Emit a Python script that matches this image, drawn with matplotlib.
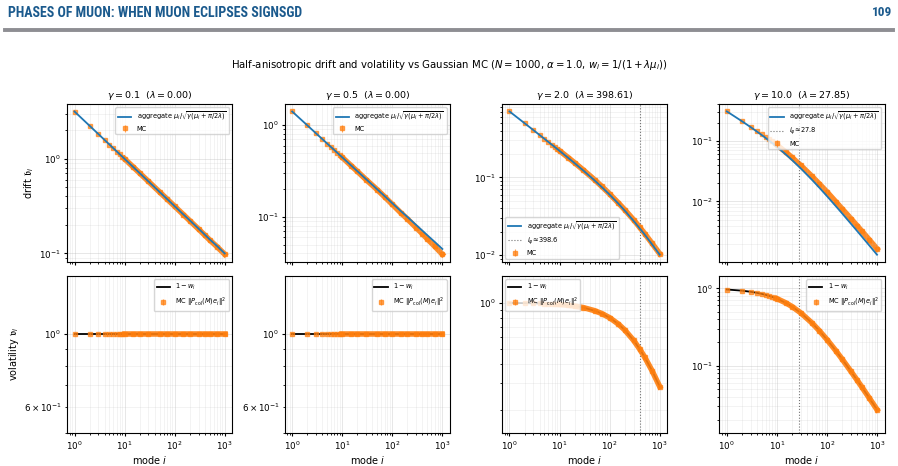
import matplotlib.pyplot as plt
import numpy as np

modes = [1, 2, 3, 4, 5, 6, 7, 8, 9, 10, 15, 20, 30, 50, 70, 100, 150, 200, 300, 400, 500, 700, 1000]

gammas = [0.1, 0.5, 2.0, 10.0]
lambdas = [0.00, 0.00, 398.61, 27.85]
i_phi = [None, None, 398.6, 27.8]

# drift b_i : aggregate theory and MC
drift_agg_g01 = [3.162, 2.236, 1.826, 1.581, 1.414, 1.291, 1.195, 1.118, 1.054, 1.000, 0.816, 0.707,
                 0.577, 0.447, 0.378, 0.316, 0.258, 0.224, 0.183, 0.158, 0.141, 0.120, 0.100]
drift_mc_g01 = [3.162, 2.236, 1.826, 1.581, 1.414, 1.291, 1.195, 1.118, 1.054, 1.000, 0.816, 0.707,
                0.577, 0.446, 0.377, 0.315, 0.257, 0.222, 0.181, 0.156, 0.139, 0.118, 0.098]
drift_agg_g05 = [1.414, 1.000, 0.816, 0.707, 0.632, 0.577, 0.535, 0.500, 0.471, 0.447, 0.365, 0.316,
                 0.258, 0.200, 0.169, 0.141, 0.115, 0.100, 0.0816, 0.0707, 0.0632, 0.0535, 0.0447]
drift_mc_g05 = [1.414, 1.000, 0.816, 0.707, 0.632, 0.577, 0.535, 0.500, 0.471, 0.446, 0.363, 0.314,
                0.255, 0.198, 0.166, 0.137, 0.110, 0.095, 0.0763, 0.0654, 0.0575, 0.0479, 0.0391]
drift_agg_g2 = [0.7057, 0.4980, 0.4059, 0.3508, 0.3132, 0.2853, 0.2636, 0.2462, 0.2316, 0.2193, 0.1774,
                0.1522, 0.1221, 0.0914, 0.0748, 0.0599, 0.0458, 0.0374, 0.0276, 0.0220, 0.0184, 0.0138, 0.0101]
drift_mc_g2 = [0.706, 0.498, 0.406, 0.351, 0.313, 0.285, 0.264, 0.246, 0.232, 0.220, 0.179,
               0.154, 0.124, 0.0932, 0.0763, 0.0611, 0.0467, 0.0383, 0.0285, 0.0227, 0.0189, 0.0142, 0.0104]
drift_agg_g10 = [0.3077, 0.2120, 0.1688, 0.1428, 0.1249, 0.1116, 0.1012, 0.0928, 0.0858, 0.0800, 0.0601,
                 0.0485, 0.0352, 0.0229, 0.0170, 0.01227, 0.00839, 0.00638, 0.00431, 0.00326, 0.00262,
                 0.00188, 0.00132]
drift_mc_g10 = [0.308, 0.214, 0.172, 0.147, 0.130, 0.117, 0.107, 0.0984, 0.0918, 0.0856, 0.0655,
                0.0534, 0.0394, 0.0261, 0.0196, 0.0144, 0.0099, 0.00759, 0.00522, 0.00398, 0.00322,
                0.00233, 0.00165]

# volatility v_i : 1 - w_i and MC
vol_th_g01 = [1.0, 1.0, 1.0, 1.0, 1.0, 1.0, 1.0, 1.0, 1.0, 1.0, 1.0, 1.0,
              1.0, 1.0, 1.0, 1.0, 1.0, 1.0, 1.0, 1.0, 1.0, 1.0, 1.0]
vol_mc_g01 = [1.0, 1.0, 1.0, 1.0, 1.0, 1.0, 1.0, 1.0, 1.0, 1.0, 1.0, 1.0,
              1.0, 1.0, 1.0, 1.0, 1.0, 1.0, 1.0, 1.0, 1.0, 1.0, 1.0]
vol_th_g05 = [1.0, 1.0, 1.0, 1.0, 1.0, 1.0, 1.0, 1.0, 1.0, 1.0, 1.0, 1.0,
              1.0, 1.0, 1.0, 1.0, 1.0, 1.0, 1.0, 1.0, 1.0, 1.0, 1.0]
vol_mc_g05 = [1.0, 1.0, 1.0, 1.0, 1.0, 1.0, 1.0, 1.0, 1.0, 1.0, 1.0, 1.0,
              1.0, 1.0, 1.0, 1.0, 1.0, 1.0, 1.0, 1.0, 1.0, 1.0, 1.0]
vol_th_g2 = [0.9975, 0.9950, 0.9925, 0.9901, 0.9876, 0.9852, 0.9827, 0.9803, 0.9779, 0.9755, 0.9637,
             0.9522, 0.9300, 0.8885, 0.8506, 0.7995, 0.7266, 0.6659, 0.5706, 0.4991, 0.4436, 0.3628, 0.2850]
vol_mc_g2 = [0.9975, 0.9950, 0.9925, 0.9901, 0.9876, 0.9852, 0.9827, 0.9803, 0.9779, 0.9755, 0.9637,
             0.9522, 0.9300, 0.8885, 0.8506, 0.7995, 0.7266, 0.6659, 0.5706, 0.4991, 0.4436, 0.3628, 0.2850]
vol_th_g10 = [0.9653, 0.9330, 0.9027, 0.8744, 0.8478, 0.8227, 0.7991, 0.7768, 0.7557, 0.7358, 0.6499,
              0.5820, 0.4814, 0.3577, 0.2845, 0.2178, 0.1565, 0.1222, 0.0849, 0.0651, 0.0528, 0.0383, 0.0271]
vol_mc_g10 = [0.9653, 0.9330, 0.9027, 0.8744, 0.8478, 0.8227, 0.7991, 0.7768, 0.7557, 0.7358, 0.6499,
              0.5820, 0.4814, 0.3577, 0.2845, 0.2178, 0.1565, 0.1222, 0.0849, 0.0651, 0.0528, 0.0383, 0.0271]

drift_agg = [drift_agg_g01, drift_agg_g05, drift_agg_g2, drift_agg_g10]
drift_mc = [drift_mc_g01, drift_mc_g05, drift_mc_g2, drift_mc_g10]
vol_th = [vol_th_g01, vol_th_g05, vol_th_g2, vol_th_g10]
vol_mc = [vol_mc_g01, vol_mc_g05, vol_mc_g2, vol_mc_g10]

top_legend_loc = ['upper right', 'upper right', 'lower left', 'upper right']
bot_legend_loc = ['upper right', 'upper right', 'upper left', 'upper right']

BLUE = '#1f77b4'
ORANGE = '#ff7f0e'

plt.rcParams['font.size'] = 6.5
plt.rcParams['mathtext.fontset'] = 'dejavusans'
plt.rcParams['xtick.labelsize'] = 6.3
plt.rcParams['ytick.labelsize'] = 6.3
plt.rcParams['xtick.major.size'] = 2.5
plt.rcParams['ytick.major.size'] = 2.5
plt.rcParams['xtick.minor.size'] = 1.5
plt.rcParams['ytick.minor.size'] = 1.5
plt.rcParams['xtick.major.pad'] = 2
plt.rcParams['ytick.major.pad'] = 2
plt.rcParams['xtick.minor.pad'] = 2
plt.rcParams['ytick.minor.pad'] = 2
plt.rcParams['axes.labelpad'] = 2
plt.rcParams['axes.titlepad'] = 4

fig = plt.figure(figsize=(8.98, 4.66), dpi=100)

# page header
head_font = ['Roboto Condensed', 'Open Sans Condensed', 'DejaVu Sans']
fig.text(0.009, 0.973, 'PHASES OF MUON: WHEN MUON ECLIPSES SIGNSGD', ha='left', va='center',
         fontsize=10, fontweight='bold', fontstretch='condensed', color='#1b5a8d', family=head_font)
fig.text(0.994, 0.973, '109', ha='right', va='center', fontsize=9.5, fontweight='bold',
         fontstretch='condensed', color='#1b5a8d', family=head_font)
fig.add_artist(plt.Line2D([0.006, 0.994], [0.935, 0.935], color='#8e8e93', lw=2.8))

fig.text(0.5, 0.861, r'Half-anisotropic drift and volatility vs Gaussian MC ($N=1000$, $\alpha=1.0$, '
         r'$w_i=1/(1+\lambda\mu_i)$)', ha='center', va='center', fontsize=7.3)

lefts = [0.0746, 0.317, 0.559, 0.801]
width = 0.184
top_row = (0.438, 0.339)
bot_row = (0.071, 0.337)

agg_label = r'aggregate $\mu_i/\sqrt{\gamma(\mu_i+\pi/2\lambda)}$'
mc_vol_label = r'MC $\|P_{\rm col}(M)e_i\|^2$'

for k in range(4):
    x = np.array(modes)

    # drift row
    ax = fig.add_axes([lefts[k], top_row[0], width, top_row[1]])
    y_mc = np.array(drift_mc[k])
    ax.plot(x[9:], y_mc[9:], color=ORANGE, lw=4, alpha=0.9, zorder=1)
    ax.errorbar(x, y_mc, yerr=0.01 * y_mc, fmt='s', ms=3, color=ORANGE, alpha=0.7,
                elinewidth=0.8, label='MC', zorder=2)
    ax.plot(x, drift_agg[k], color=BLUE, lw=1.3, label=agg_label, zorder=3)
    if i_phi[k] is not None:
        ax.axvline(i_phi[k], color='0.45', ls=':', lw=0.8, label=rf'$i_\varphi\!\approx\!{i_phi[k]}$')
    ax.set_xscale('log')
    ax.set_yscale('log')
    ax.set_title(rf'$\gamma={gammas[k]}$  ($\lambda={lambdas[k]:.2f}$)', fontsize=6.8)
    ax.tick_params(labelbottom=False)
    ax.grid(True, which='major', alpha=0.35, lw=0.6)
    ax.grid(True, which='minor', alpha=0.2, lw=0.5)
    ax.legend(loc=top_legend_loc[k], fontsize=4.8, handlelength=2.0)
    if k == 0:
        ax.set_ylabel(r'drift $\mathfrak{b}_i$', fontsize=7)

    # volatility row
    ax = fig.add_axes([lefts[k], bot_row[0], width, bot_row[1]])
    v_mc = np.array(vol_mc[k])
    ax.plot(x, vol_th[k], color='black', lw=1.3, label=r'$1-w_i$', zorder=2)
    ax.plot(x[9:], v_mc[9:], color=ORANGE, lw=4, alpha=0.9, zorder=3)
    ax.errorbar(x, v_mc, yerr=0.005 * v_mc, fmt='s', ms=3, color=ORANGE, alpha=0.7,
                elinewidth=0.8, label=mc_vol_label, zorder=4)
    if i_phi[k] is not None:
        ax.axvline(i_phi[k], color='0.45', ls=':', lw=0.8)
    ax.set_xscale('log')
    ax.set_yscale('log')
    lo = min(min(vol_th[k]), min(vol_mc[k]))
    hi = max(max(vol_th[k]), max(vol_mc[k]))
    ax.set_ylim(0.5 * lo, 1.5 * hi)
    ax.set_xlabel(r'mode $i$', fontsize=7)
    ax.grid(True, which='major', alpha=0.35, lw=0.6)
    ax.grid(True, which='minor', alpha=0.2, lw=0.5)
    ax.legend(loc=bot_legend_loc[k], fontsize=4.8, handlelength=2.0)
    if k == 0:
        ax.set_ylabel(r'volatility $\mathfrak{v}_i$', fontsize=7)

fig.savefig('out.png', dpi=100)
